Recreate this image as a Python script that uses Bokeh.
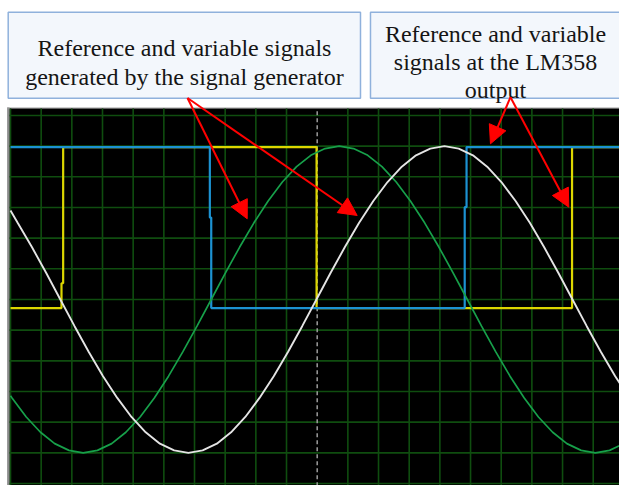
from bokeh.plotting import figure
from bokeh.models import Arrow, NormalHead
from bokeh.core.properties import value
from bokeh.embed import file_html
from bokeh.resources import INLINE

# ---- Oscilloscope readings (x in time divisions from the centre line, y in volt divisions) ----
# Green trace: reference sine from the signal generator
green_x = [-10.0, -9.949, -9.486, -9.022, -8.558, -8.094, -7.630, -7.166, -6.702, -6.238,
           -5.774, -5.311, -4.847, -4.383, -3.919, -3.455, -2.991, -2.527, -2.063, -1.599,
           -1.136, -0.672, -0.208, 0.256, 0.720, 1.184, 1.648, 2.112, 2.576, 3.039,
           3.503, 3.967, 4.431, 4.895, 5.359, 5.823, 6.287, 6.751, 7.214, 7.678,
           8.142, 8.606, 9.070, 9.534, 9.998, 10.462]
green_y = [-3.14, -3.21, -3.83, -4.33, -4.70, -4.92, -5.00, -4.92, -4.70, -4.33,
           -3.83, -3.21, -2.50, -1.71, -0.87, 0.00, 0.87, 1.71, 2.50, 3.21,
           3.83, 4.33, 4.70, 4.92, 5.00, 4.92, 4.70, 4.33, 3.83, 3.21,
           2.50, 1.71, 0.87, 0.00, -0.87, -1.71, -2.50, -3.21, -3.83, -4.33,
           -4.70, -4.92, -5.00, -4.92, -4.70, -4.33]

# White trace: variable sine from the signal generator
white_x = [-10.0, -9.767, -9.303, -8.839, -8.375, -7.911, -7.447, -6.983, -6.519, -6.056,
           -5.592, -5.128, -4.664, -4.200, -3.736, -3.272, -2.808, -2.344, -1.881, -1.417,
           -0.953, -0.489, -0.025, 0.439, 0.903, 1.367, 1.830, 2.294, 2.758, 3.222,
           3.686, 4.150, 4.614, 5.078, 5.542, 6.006, 6.469, 6.933, 7.397, 7.861,
           8.325, 8.789, 9.253, 9.717, 10.181]
white_y = [2.90, 2.50, 1.71, 0.87, 0.00, -0.87, -1.71, -2.50, -3.21, -3.83,
           -4.33, -4.70, -4.92, -5.00, -4.92, -4.70, -4.33, -3.83, -3.21, -2.50,
           -1.71, -0.87, 0.00, 0.87, 1.71, 2.50, 3.21, 3.83, 4.33, 4.70,
           4.92, 5.00, 4.92, 4.70, 4.33, 3.83, 3.21, 2.50, 1.71, 0.87,
           0.00, -0.87, -1.71, -2.50, -3.21]

# Blue trace: reference square wave at the LM358 output
blue_x = [-10.0, -3.50, -3.50, -3.455, -3.455, 4.81, 4.81, 4.87, 4.87, 10.5]
blue_y = [4.97, 4.97, 2.67, 2.67, -0.28, -0.28, 3.01, 3.01, 4.97, 4.97]

# Yellow trace: variable square wave at the LM358 output
yellow_x = [-10.0, -8.337, -8.337, -8.283, -8.283, -0.02, -0.02, 8.31, 8.31, 10.5]
yellow_y = [-0.28, -0.28, 0.53, 0.53, 4.97, 4.97, -0.28, -0.28, 4.97, 4.97]

# Graticule
grid_x = [-10, -9, -8, -7, -6, -5, -4, -3, -2, -1, 1, 2, 3, 4, 5, 6, 7, 8, 9]
grid_y = [-6, -5, -4, -3, -2, -1, 0, 1, 2, 3, 4, 5, 6]
center_x = [0]

# Annotation texts
box1_lines = ["Reference and variable signals", "generated by the signal generator"]
box2_lines = ["Reference and variable", "signals at the LM358", "output"]

# ---- Figure ----
p = figure(width=619, height=485, x_range=(-10.326, 9.857), y_range=(-6.065, 9.749),
           output_backend="svg", toolbar_location=None,
           x_axis_location=None, y_axis_location=None, min_border=0)
p.grid.visible = False
p.outline_line_color = None
p.background_fill_color = "white"
p.border_fill_color = "white"

SCREEN_TOP = 6.228
SCREEN_BOT = -7
SCREEN_L = -10.03
SCREEN_R = 10.5

# Screen and its frame
p.quad(left=[-10.11], right=[SCREEN_L], bottom=[SCREEN_BOT], top=[6.26],
       fill_color="#8c8c8c", line_color=None)
p.quad(left=[-10.11], right=[SCREEN_R], bottom=[SCREEN_TOP], top=[6.26],
       fill_color="#a0a0a0", line_color=None)
p.quad(left=[SCREEN_L], right=[SCREEN_R], bottom=[SCREEN_BOT], top=[SCREEN_TOP],
       fill_color="black", line_color=None)

# Graticule lines
p.segment(x0=grid_x, y0=[SCREEN_BOT] * len(grid_x), x1=grid_x, y1=[SCREEN_TOP] * len(grid_x),
          line_color="#0f4d0f", line_width=1.6)
p.segment(x0=[SCREEN_L] * len(grid_y), y0=grid_y, x1=[SCREEN_R] * len(grid_y), y1=grid_y,
          line_color="#0f4d0f", line_width=1.6)
p.segment(x0=center_x, y0=[SCREEN_BOT], x1=center_x, y1=[SCREEN_TOP],
          line_color="#9c9c9c", line_width=1.5, line_dash="4 3")

# Traces
p.line(yellow_x, yellow_y, line_color="#dcd600", line_width=2.2)
p.line(blue_x, blue_y, line_color="#1c92d2", line_width=2.2)
p.line(green_x, green_y, line_color="#17a04a", line_width=1.7)
p.line(white_x, white_y, line_color="#e4e4e4", line_width=1.9)

# Annotation boxes
p.quad(left=[-10.075, 1.738], right=[1.412, 10.5], bottom=[6.563, 6.563], top=[9.367, 9.367],
       fill_color="#f3f7fc", line_color="#8fb1dc", line_width=1.5)

p.text(x=[-4.327, -4.327], y=[8.184, 7.255], text=box1_lines,
       text_font=value("Liberation Serif"), text_font_size="24px",
       text_align="center", text_baseline="alphabetic", text_color="#151515")
p.text(x=[5.814, 5.814, 5.814], y=[8.657, 7.744, 6.847], text=box2_lines,
       text_font=value("Liberation Serif"), text_font_size="24px",
       text_align="center", text_baseline="alphabetic", text_color="#151515")

# Arrows
arrows = [
    (-4.229, 6.570, -2.282, 2.631),
    (-4.229, 6.570, 1.304, 2.739),
    (6.303, 6.596, 5.650, 5.077),
    (6.303, 6.596, 8.204, 3.009),
]
for xs, ys, xe, ye in arrows:
    p.add_layout(Arrow(end=NormalHead(size=18, fill_color="#ff0000", line_color="#ff0000",
                                      line_width=1),
                       x_start=xs, y_start=ys, x_end=xe, y_end=ye,
                       line_color="#ff0000", line_width=2))

open("out.html", "w").write(file_html(p, INLINE))
